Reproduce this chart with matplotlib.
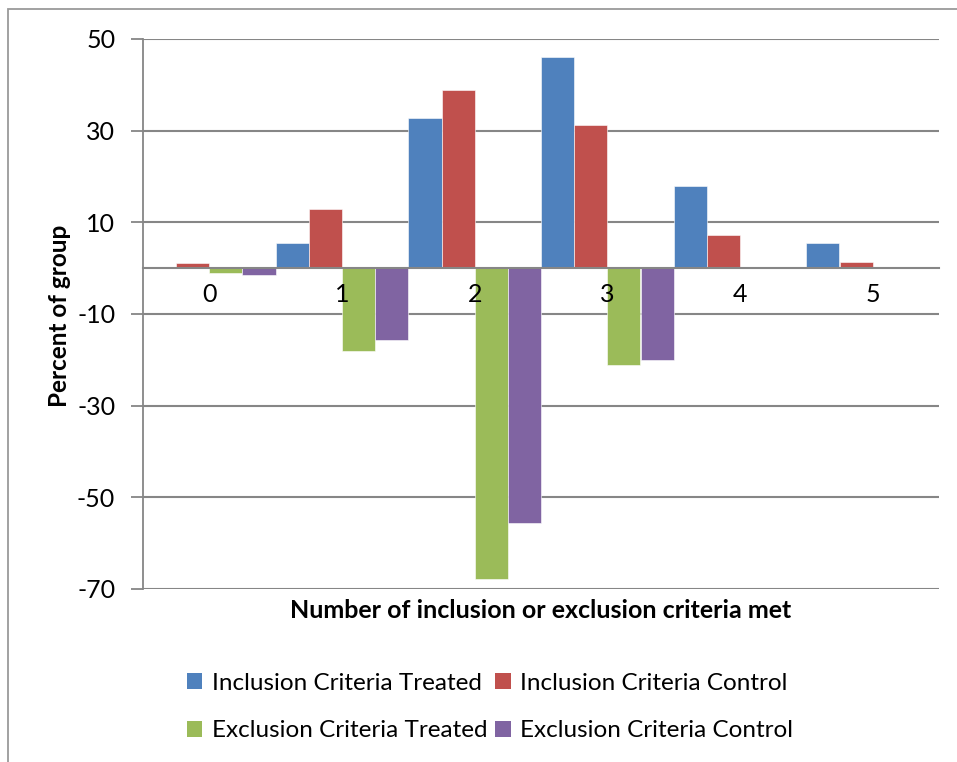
import matplotlib

matplotlib.use("Agg")

import matplotlib.pyplot as plt
import numpy as np
from matplotlib.patches import Patch, Rectangle

categories = ["0", "1", "2", "3", "4", "5"]
inclusion_treated = [0.0, 5.5, 32.8, 46.1, 17.9, 5.5]
inclusion_control = [1.1, 12.8, 38.9, 31.2, 7.3, 1.3]
exclusion_treated = [-1.1, -18.1, -67.9, -21.1, 0.0, 0.0]
exclusion_control = [-1.5, -15.6, -55.6, -20.0, 0.0, 0.0]
series_names = [
    "Inclusion Criteria Treated",
    "Inclusion Criteria Control",
    "Exclusion Criteria Treated",
    "Exclusion Criteria Control",
]
y_ticks = [50, 30, 10, -10, -30, -50, -70]

colors = ["#4F81BD", "#C0504D", "#9BBB59", "#8064A2"]
grid_color = "#868686"

plt.rcParams["font.family"] = ["Lato", "DejaVu Sans"]
plt.rcParams["axes.unicode_minus"] = False

W, H = 957, 762
fig = plt.figure(figsize=(W / 100, H / 100), dpi=100)
ax = fig.add_axes([143 / W, 1 - 589 / H, (939 - 143) / W, (589 - 39) / H])

# figure frame (cut off on the right and bottom like the source)
fig.patches.append(
    Rectangle((8 / W, -0.05), 1.1, 1 - 9 / H + 0.05, transform=fig.transFigure,
              fill=False, edgecolor="#9a9a9a", linewidth=1.3)
)

x = np.arange(len(categories))
width = 0.25
all_series = [inclusion_treated, inclusion_control, exclusion_treated, exclusion_control]
for i, (vals, name, col) in enumerate(zip(all_series, series_names, colors)):
    ax.bar(x + (i - 1.5) * width, vals, width, color=col, label=name,
           edgecolor="white", linewidth=0.4, zorder=2)

ax.set_xlim(-0.5, len(categories) - 0.5)
ax.set_ylim(-70, 50)
ax.set_yticks(y_ticks)
ax.yaxis.grid(True, color=grid_color, linewidth=1.5)
ax.set_axisbelow(True)

for side in ["top", "right"]:
    ax.spines[side].set_visible(False)
ax.spines["left"].set_color(grid_color)
ax.spines["left"].set_linewidth(1.3)
ax.spines["bottom"].set_position(("data", 0))
ax.spines["bottom"].set_color(grid_color)
ax.spines["bottom"].set_linewidth(1.5)
ax.spines["bottom"].set_zorder(3)

ax.set_xticks(x)
ax.set_xticklabels(categories)
ax.tick_params(axis="x", length=0, pad=11, labelsize=18)
ax.tick_params(axis="y", length=9, width=1.3, color=grid_color, pad=11, labelsize=18)
ax.xaxis.set_zorder(4)

fig.text(60 / W, 1 - 316 / H, "Percent of group", rotation=90, ha="center", va="center",
         fontsize=17.5, fontweight="bold")
fig.text(541 / W, 1 - 611 / H, "Number of inclusion or exclusion criteria met",
         ha="center", va="center", fontsize=18, fontweight="bold")

# reorder so the two-column legend reads row by row
order = [0, 2, 1, 3]
handles = [Patch(facecolor=colors[i], edgecolor="none") for i in order]
labels = [series_names[i] for i in order]
fig.legend(handles, labels, ncol=2, loc="center",
           bbox_to_anchor=(490 / W, 1 - 707 / H), frameon=False, fontsize=17.5,
           handlelength=0.65, handleheight=0.65, handletextpad=0.4,
           columnspacing=0.3, labelspacing=1.1)

fig.savefig("out.png", dpi=100)
